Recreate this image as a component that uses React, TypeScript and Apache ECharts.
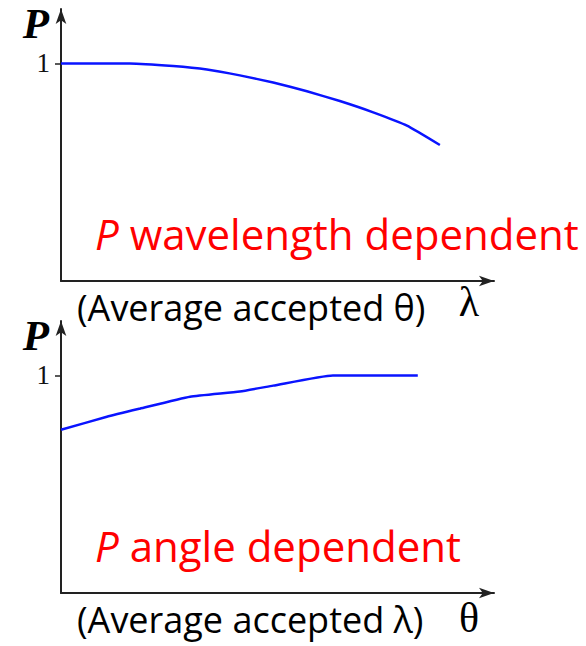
import React, { useEffect, useRef } from "react";
import * as echarts from "echarts";

// Polarisation P versus wavelength (averaged over accepted angles)
const lambdaX = [0, 15.9, 25.9, 33.7, 41.3, 49, 56.8, 64.4, 72.1, 79.9, 87.5];
const lambdaP = [1, 1, 0.988, 0.972, 0.945, 0.912, 0.872, 0.827, 0.775, 0.714, 0.625];

// Polarisation P versus angle (averaged over accepted wavelengths)
const thetaX = [0, 10.6, 18.2, 29.8, 41.3, 49, 62.8, 82.4];
const thetaP = [0.75, 0.81, 0.847, 0.902, 0.926, 0.953, 1, 1];

const yTicks = [1];
const yTickLabel = "1";

const titles = ["wavelength dependent", "angle dependent"];
const subTitles = ["(Average accepted θ)", "(Average accepted λ)"];
const axisSymbols = ["λ", "θ"];

const AXIS_COLOR = "#222";
const SANS = '"Open Sans", "Noto Sans", sans-serif';
const SERIF = '"Liberation Serif", "DejaVu Serif", serif';

function pairs(xs: number[], ys: number[]) {
  return xs.map((x, i) => [x, ys[i]]);
}

function makeXAxis(gridIndex: number) {
  return {
    type: "value",
    gridIndex,
    min: 0,
    max: 100,
    axisLine: {
      show: true,
      onZero: false,
      symbol: ["none", "arrow"],
      symbolSize: [8, 15],
      lineStyle: { color: AXIS_COLOR, width: 2 },
    },
    axisTick: { show: false },
    axisLabel: { show: false },
    splitLine: { show: false },
  };
}

function makeYAxis(gridIndex: number) {
  return {
    type: "value",
    gridIndex,
    min: 0,
    max: 1.25,
    axisLine: {
      show: true,
      onZero: false,
      symbol: ["none", "arrow"],
      symbolSize: [8, 15],
      lineStyle: { color: AXIS_COLOR, width: 2 },
    },
    axisTick: {
      show: true,
      customValues: yTicks,
      length: 6,
      lineStyle: { color: AXIS_COLOR, width: 1.5 },
    },
    axisLabel: {
      show: true,
      customValues: yTicks,
      formatter: () => yTickLabel,
      margin: 11,
      color: "#111",
      fontFamily: SERIF,
      fontSize: 27,
    },
    splitLine: { show: false },
  };
}

function panelTexts(offsetY: number, idx: number, symbolY: number) {
  return [
    {
      type: "text",
      x: 36,
      y: 23 + offsetY,
      style: {
        text: "P",
        font: `bold italic 43px ${SERIF}`,
        fill: "#000",
        align: "center",
        verticalAlign: "middle",
      },
    },
    {
      type: "text",
      x: 95,
      y: 233 + offsetY,
      style: {
        text: `{i|P} ${titles[idx]}`,
        font: `42px ${SANS}`,
        fill: "#ff0000",
        align: "left",
        verticalAlign: "middle",
        rich: {
          i: { fontStyle: "italic", fontSize: 42, fontFamily: SANS, fill: "#ff0000" },
        },
      },
    },
    {
      type: "text",
      x: 77,
      y: 307 + offsetY,
      style: {
        text: subTitles[idx],
        font: `36px ${SANS}`,
        fill: "#000",
        align: "left",
        verticalAlign: "middle",
      },
    },
    {
      type: "text",
      x: 469,
      y: symbolY + offsetY,
      style: {
        text: axisSymbols[idx],
        font: `42px ${SERIF}`,
        fill: "#000",
        align: "center",
        verticalAlign: "middle",
      },
    },
  ];
}

export default function App() {
  const ref = useRef<HTMLDivElement>(null);

  useEffect(() => {
    if (!ref.current) return;
    const chart = echarts.init(ref.current, undefined, { renderer: "svg" });
    chart.setOption({
      animation: false,
      backgroundColor: "#ffffff",
      grid: [
        { left: 61, top: 9, width: 433, height: 272 },
        { left: 61, top: 321, width: 433, height: 272 },
      ],
      xAxis: [makeXAxis(0), makeXAxis(1)],
      yAxis: [makeYAxis(0), makeYAxis(1)],
      series: [
        {
          type: "line",
          xAxisIndex: 0,
          yAxisIndex: 0,
          data: pairs(lambdaX, lambdaP),
          smooth: 0.15,
          showSymbol: false,
          lineStyle: { color: "#0a14ff", width: 2.5 },
        },
        {
          type: "line",
          xAxisIndex: 1,
          yAxisIndex: 1,
          data: pairs(thetaX, thetaP),
          smooth: 0.15,
          showSymbol: false,
          lineStyle: { color: "#0a14ff", width: 2.5 },
        },
      ],
      graphic: [...panelTexts(0, 0, 302), ...panelTexts(312, 1, 306)],
    });
    return () => chart.dispose();
  }, []);

  return (
    <div
      ref={ref}
      style={{ position: "fixed", left: 0, top: 0, width: 586, height: 646 }}
    />
  );
}
